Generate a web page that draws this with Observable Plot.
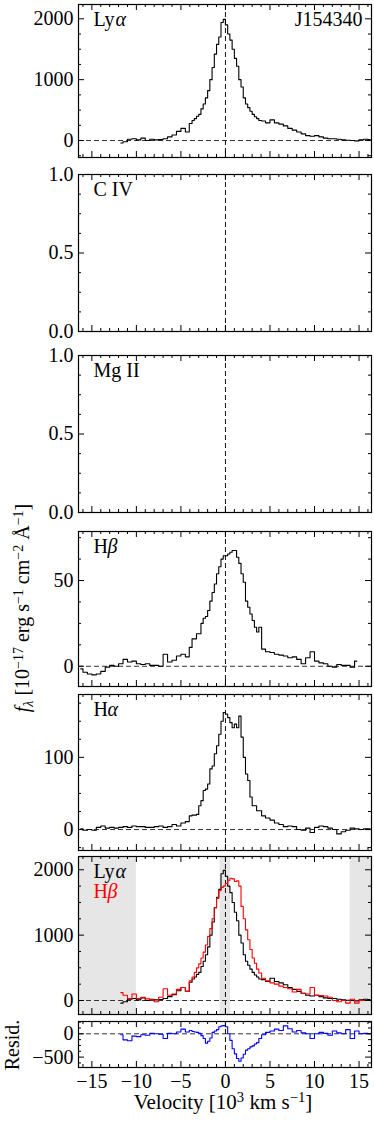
<!DOCTYPE html>
<html><head><meta charset="utf-8">
<script src="https://cdn.jsdelivr.net/npm/d3@7"></script>
<script src="https://cdn.jsdelivr.net/npm/@observablehq/plot@0.6"></script>
<style>
body{margin:0;background:#fff;}
#fig{position:relative;width:374px;height:1121px;overflow:hidden;font-family:"Liberation Serif","Times New Roman",serif;color:#000;}
#fig svg{position:absolute;left:0;overflow:visible;}
.lab{position:absolute;font-size:21px;white-space:nowrap;line-height:1;}
.lab sup{font-size:0.7em;vertical-align:0.45em;line-height:0;}
.lab sub{font-size:0.7em;vertical-align:-0.25em;line-height:0;}
.rot{transform:translate(-50%,-50%) rotate(-90deg);}
.ctr{transform:translate(-50%,-50%);}
</style></head><body><div id="fig"></div>
<script>
// velocity bin centres [10^3 km/s]: 0.5 bins in the wings, 0.25 bins in the core
const vel = [-16.25,-15.75,-15.25,-14.75,-14.25,-13.75,-13.25,-12.75,-12.25,-11.75,-11.25,-10.75,-10.25,-9.75,-9.25,-8.75,-8.25,-7.75,-7.25,-6.75,-6.25,-5.75,-5.25,-4.75,-4.25,
  -3.875,-3.625,-3.375,-3.125,-2.875,-2.625,-2.375,-2.125,-1.875,-1.625,-1.375,-1.125,-0.875,-0.625,-0.375,-0.125,0.125,0.375,0.625,0.875,1.125,1.375,1.625,1.875,2.125,2.375,2.625,2.875,3.125,3.375,3.625,3.875,
  4.25,4.75,5.25,5.75,6.25,6.75,7.25,7.75,8.25,8.75,9.25,9.75,10.25,10.75,11.25,11.75,12.25,12.75,13.25,13.75,14.25,14.75,15.25,15.75,16.25];
// Lyα flux
const lya = [null,null,null,null,null,null,null,null,null,-40,-20,20,30,10,40,0,20,10,15,30,60,90,150,200,140,
  280,330,360,400,430,520,600,700,820,1000,1200,1420,1580,1700,1940,1990,1900,1750,1650,1500,1350,1220,1000,880,700,600,540,480,430,390,360,330,
  320,290,340,290,270,240,200,170,140,110,80,70,80,60,40,30,30,20,10,5,0,-5,10,20,15];
// Hβ flux
const hb = [-1.5,-3.5,-4.5,-5,-4.5,-3,-0.5,0.5,0,1.5,4,2.5,3,1.5,1,1.5,0.5,0.5,0,7,2.5,3.5,6,7,5.5,
  11,16,16,19,19,25,28,29,32.5,38,43,48,54,58,62.5,64.5,64.5,65.5,66.5,67.5,67.5,63.6,60,54,49,38,34.4,30.5,26.7,22.8,20,22.8,
  10,8.5,8,7,6.5,6,5,5.5,4,1.5,5,8.5,3,2,1.5,0,-0.5,1,0.5,0.5,-0.5,3,null,null,null];
// Hα flux
const ha = [1,-1,0,-1,3,5,2,3,2,3,4,3,5,4,4,3,3,4,5,3,4,7,5,9,11,
  19,20,20,21,33,40,54,56,63,84,88,105,116,132,150,162,160,155,148,141,146,141,157,128,100,77,68,45,33,33,26,26,
  19,16,13,9,7,4,5,4,0,-1,2,-4,3,5,4,2,0,-6,-3,-1,2,1,0,1,1];
// Hβ scaled to Lyα
const hbScaled = [null,null,null,null,null,null,null,null,null,120,80,30,100,30,50,25,10,-20,50,180,80,100,170,200,140,
  300,360,430,500,560,650,740,850,980,1100,1250,1420,1560,1680,1730,1750,1790,1840,1870,1860,1820,1830,1750,1440,1250,1080,930,780,650,570,480,420,
  340,300,270,250,220,200,180,130,170,110,100,200,80,75,70,50,0,-20,0,-40,20,-40,0,0,0];
// residual Lyα − scaled Hβ
const resid = [null,null,null,null,null,null,null,null,null,-20,-130,-150,-50,-60,-20,-30,10,0,-10,-100,10,0,40,100,40,
  70,50,40,30,10,-40,-100,-200,-160,-90,30,60,90,150,170,175,150,0,-140,-320,-430,-530,-590,-520,-440,-350,-320,-280,-260,-220,-190,-100,
  -20,30,60,100,70,170,110,40,70,20,0,-100,0,30,10,-30,60,20,0,90,-100,60,0,10,0];
// masked velocity ranges (shaded)
const maskLo = [-17, -0.6, 14];
const maskHi = [-10, 0.6, 17];

const xMajor = [-15,-10,-5,0,5,10,15];
const xMinor = [-16,-14,-13,-12,-11,-9,-8,-7,-6,-4,-3,-2,-1,1,2,3,4,6,7,8,9,11,12,13,14,16];

const FONT = '"Liberation Serif","Times New Roman",serif';
const fig = document.getElementById("fig");
const idx = vel.map((_, i) => i);
const XDOM = [-16.5, 16.4];
const fmtInt = d3.format("d");
const fmt1 = d3.format(".1f");

function step(arr, color) {
  return Plot.line(idx, {x: i => vel[i], y: i => arr[i], curve: "step", stroke: color, strokeWidth: 1.1, clip: true});
}
function lbl(str, dx, dy, opts = {}) {
  return Plot.text([str], {text: d => d, frameAnchor: "top-left", textAnchor: "start", lineAnchor: "bottom", dx, dy, fontSize: 20, fontFamily: FONT, ...opts});
}

function panel({top, bottom, ydom, ymajor, yminor, yfmt, content = [], zeroY = true, bands = false, mb = 1, xaxis = false}) {
  const mt = 1, ih = bottom - top, iw = 293, MAJ = 6, MIN = 3;
  const marks = [];
  if (bands) marks.push(Plot.rect(maskLo.map((_, i) => i), {x1: i => maskLo[i], x2: i => maskHi[i], fill: "#e6e6e6", clip: true}));
  if (zeroY) marks.push(Plot.ruleY([0], {stroke: "#333", strokeDasharray: "5,3", strokeWidth: 1}));
  marks.push(Plot.ruleX([0], {stroke: "#111", strokeDasharray: "5,3", strokeWidth: 1}));
  marks.push(...content);
  marks.push(Plot.tickX(xMajor, {x: d => d, insetTop: ih - MAJ, stroke: "#000"}));
  marks.push(Plot.tickX(xMajor, {x: d => d, insetBottom: ih - MAJ, stroke: "#000"}));
  marks.push(Plot.tickX(xMinor, {x: d => d, insetTop: ih - MIN, stroke: "#000"}));
  marks.push(Plot.tickX(xMinor, {x: d => d, insetBottom: ih - MIN, stroke: "#000"}));
  marks.push(Plot.tickY(ymajor, {y: d => d, insetRight: iw - MAJ, stroke: "#000"}));
  marks.push(Plot.tickY(ymajor, {y: d => d, insetLeft: iw - MAJ, stroke: "#000"}));
  marks.push(Plot.tickY(yminor, {y: d => d, insetRight: iw - MIN, stroke: "#000"}));
  marks.push(Plot.tickY(yminor, {y: d => d, insetLeft: iw - MIN, stroke: "#000"}));
  marks.push(Plot.axisY(ymajor, {tickSize: 0, tickPadding: 5, tickFormat: yfmt, fontSize: 20, fontFamily: FONT}));
  if (xaxis) marks.push(Plot.axisX(xMajor, {tickSize: 0, tickPadding: 6, fontSize: 20, fontFamily: FONT}));
  marks.push(Plot.frame({stroke: "#000", strokeWidth: 1.2}));
  const svg = Plot.plot({
    width: 374, height: ih + mt + mb,
    marginLeft: 78, marginRight: 3, marginTop: mt, marginBottom: mb,
    x: xaxis ? {domain: XDOM} : {domain: XDOM, axis: null},
    y: {domain: ydom},
    style: {fontFamily: FONT, fontSize: "20px", background: "transparent", overflow: "visible", color: "#000"},
    marks
  });
  svg.style.top = (top - mt) + "px";
  fig.appendChild(svg);
}

// Panel 1: Lyα
panel({top: 4, bottom: 157, ydom: [-279, 2235], ymajor: [0, 1000, 2000], yminor: [-250, 250, 500, 750, 1250, 1500, 1750], yfmt: fmtInt,
  content: [step(lya, "#000"), lbl("Ly", 15, 21), lbl("α", 37, 21, {fontStyle: "italic"}),
    Plot.text(["J154340"], {text: d => d, frameAnchor: "top-right", textAnchor: "end", lineAnchor: "bottom", dx: -9, dy: 21, fontSize: 20, fontFamily: FONT})]});
// Panel 2: C IV
panel({top: 174, bottom: 331, ydom: [0, 1], ymajor: [0, 0.5, 1], yminor: [0.125, 0.25, 0.375, 0.625, 0.75, 0.875], yfmt: fmt1, zeroY: false,
  content: [lbl("C IV", 15, 21)]});
// Panel 3: Mg II
panel({top: 355, bottom: 512, ydom: [0, 1], ymajor: [0, 0.5, 1], yminor: [0.125, 0.25, 0.375, 0.625, 0.75, 0.875], yfmt: fmt1, zeroY: false,
  content: [lbl("Mg II", 15, 21)]});
// Panel 4: Hβ
panel({top: 531, bottom: 686, ydom: [-11.8, 78.6], ymajor: [0, 50], yminor: [12.5, 25, 37.5, 62.5, 75], yfmt: fmtInt,
  content: [step(hb, "#000"), lbl("H", 15, 21), lbl("β", 29, 21, {fontStyle: "italic"})]});
// Panel 5: Hα
panel({top: 694, bottom: 850, ydom: [-29, 187], ymajor: [0, 100], yminor: [-25, 25, 50, 75, 125, 150, 175], yfmt: fmtInt,
  content: [step(ha, "#000"), lbl("H", 15, 21), lbl("α", 29, 21, {fontStyle: "italic"})]});
// Panel 6: comparison
panel({top: 856, bottom: 1014, ydom: [-214, 2203], ymajor: [0, 1000, 2000], yminor: [250, 500, 750, 1250, 1500, 1750], yfmt: fmtInt, bands: true,
  content: [step(lya, "#000"), step(hbScaled, "#ff0000"),
    lbl("Ly", 15, 21), lbl("α", 37, 21, {fontStyle: "italic"}),
    lbl("H", 15, 41, {fill: "#ff0000"}), lbl("β", 29, 41, {fontStyle: "italic", fill: "#ff0000"})]});
// Panel 7: residual
panel({top: 1021, bottom: 1067, ydom: [-723, 264], ymajor: [-500, 0], yminor: [-625, -375, -250, -125, 125, 250], yfmt: fmtInt, mb: 54, xaxis: true,
  content: [step(resid, "#0000ff")]});

// axis titles
function addLab(html, x, y, cls, extra = "") {
  const d = document.createElement("div");
  d.className = "lab " + cls;
  d.style.cssText += `left:${x}px;top:${y}px;${extra}`;
  d.innerHTML = html;
  fig.appendChild(d);
}
addLab('<i>f</i><sub><i>λ</i></sub> [10<sup>−17</sup> erg s<sup>−1</sup> cm<sup>−2</sup> Å<sup>−1</sup>]', 22, 608, "rot", "font-size:20px;");
addLab('Resid.', 12, 1045, "rot", "font-size:20px;");
addLab('Velocity [10<sup>3</sup> km s<sup>−1</sup>]', 223, 1102, "ctr");
</script></body></html>
